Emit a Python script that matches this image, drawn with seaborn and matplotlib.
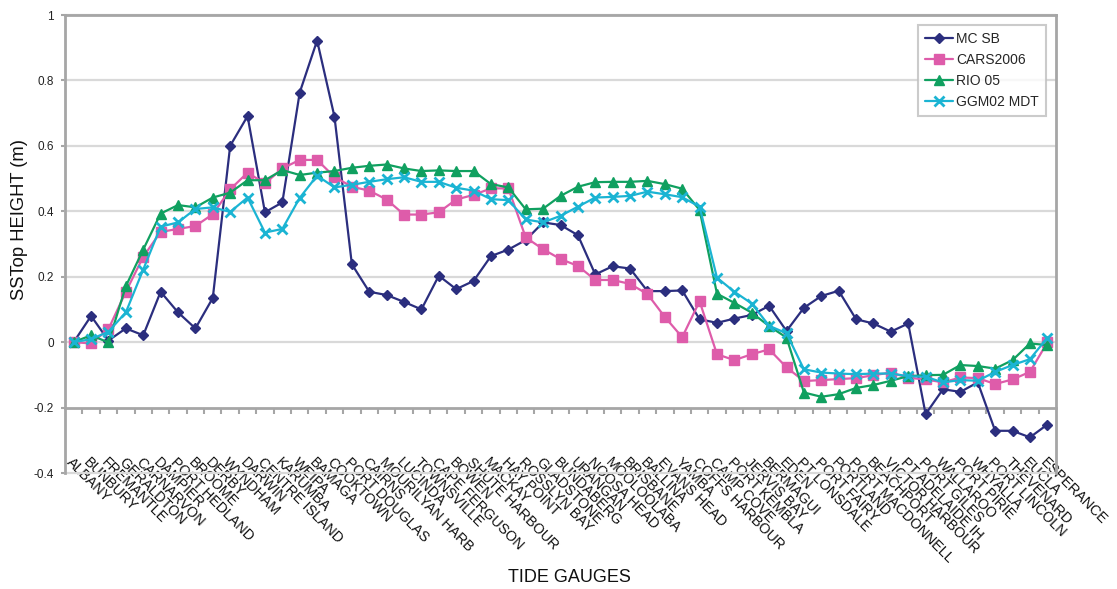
import numpy as np
import pandas as pd
import matplotlib
matplotlib.use("Agg")
import matplotlib.pyplot as plt
import seaborn as sns

gauges = [
    "ALBANY", "BUNBURY", "FREMANTLE", "GERALDTON", "CARNARVON", "DAMPIER",
    "PORT HEDLAND", "BROOME", "DERBY", "WYNDHAM", "DARWIN", "CENTRE ISLAND",
    "KARUMBA", "WEIPA", "BAMAGA", "COOKTOWN", "PORT DOUGLAS", "CAIRNS",
    "MOURILYAN HARB", "LUCINDA", "TOWNSVILLE", "CAPE FERGUSON", "BOWEN",
    "SHUTE HARBOUR", "MACKAY", "HAY POINT", "ROSSLYN BAY", "GLADSTONE",
    "BUNDABERG", "URANGAN", "NOOSA HEAD", "MOOLOOLABA", "BRISBANE", "BALLINA",
    "EVANS HEAD", "YAMBA", "COFFS HARBOUR", "CAMP COVE", "PORT KEMBLA",
    "JERVIS BAY", "BERMAGUI", "EDEN", "PT LONSDALE", "PORT FAIRY", "PORTLAND",
    "PORT MACDONNELL", "BEACHPORT", "VICTOR HARBOUR", "PT ADELAIDE IH",
    "PORT GILES", "WALLAROO", "PORT PIRIE", "WHYALLA", "PORT LINCOLN",
    "THEVENARD", "EUCLA", "ESPERANCE",
]

mc_sb = [
    0.0, 0.08, 0.005, 0.042, 0.021, 0.154, 0.091, 0.042, 0.135, 0.600,
    0.691, 0.397, 0.427, 0.763, 0.922, 0.689, 0.238, 0.154, 0.144, 0.123,
    0.100, 0.203, 0.162, 0.187, 0.263, 0.283, 0.312, 0.366, 0.358, 0.327,
    0.207, 0.232, 0.225, 0.156, 0.156, 0.158, 0.070, 0.059, 0.072, 0.083,
    0.111, 0.034, 0.105, 0.141, 0.157, 0.070, 0.057, 0.032, 0.057, -0.220,
    -0.144, -0.152, -0.123, -0.271, -0.271, -0.291, -0.252,
]

cars2006 = [
    0.0, -0.004, 0.040, 0.154, 0.261, 0.337, 0.346, 0.355, 0.391, 0.467,
    0.518, 0.485, 0.531, 0.557, 0.557, 0.505, 0.475, 0.463, 0.436, 0.390,
    0.390, 0.397, 0.436, 0.450, 0.470, 0.470, 0.320, 0.284, 0.254, 0.233,
    0.190, 0.190, 0.178, 0.147, 0.077, 0.015, 0.125, -0.037, -0.055, -0.037,
    -0.022, -0.077, -0.119, -0.116, -0.113, -0.110, -0.101, -0.093, -0.109,
    -0.114, -0.123, -0.108, -0.110, -0.128, -0.114, -0.091, -0.001,
]

rio05 = [
    0.0, 0.021, -0.001, 0.171, 0.283, 0.393, 0.419, 0.412, 0.442, 0.457,
    0.495, 0.495, 0.526, 0.511, 0.518, 0.523, 0.533, 0.539, 0.543, 0.531,
    0.523, 0.525, 0.523, 0.523, 0.483, 0.473, 0.406, 0.408, 0.447, 0.475,
    0.489, 0.490, 0.490, 0.493, 0.483, 0.469, 0.404, 0.148, 0.120, 0.090,
    0.049, 0.014, -0.154, -0.167, -0.159, -0.140, -0.131, -0.118, -0.104,
    -0.101, -0.100, -0.070, -0.073, -0.081, -0.055, -0.004, -0.009,
]

ggm02_mdt = [
    0.0, 0.009, 0.032, 0.091, 0.222, 0.353, 0.366, 0.407, 0.412, 0.398,
    0.442, 0.335, 0.346, 0.441, 0.509, 0.473, 0.481, 0.490, 0.498, 0.504,
    0.490, 0.490, 0.472, 0.463, 0.437, 0.434, 0.375, 0.366, 0.386, 0.414,
    0.442, 0.444, 0.447, 0.460, 0.452, 0.443, 0.414, 0.197, 0.154, 0.118,
    0.050, 0.027, -0.083, -0.093, -0.096, -0.098, -0.096, -0.096, -0.104,
    -0.106, -0.123, -0.116, -0.118, -0.091, -0.070, -0.052, 0.013,
]

series_names = ["MC SB", "CARS2006", "RIO 05", "GGM02 MDT"]
y_ticks = [-0.4, -0.2, 0.0, 0.2, 0.4, 0.6, 0.8, 1.0]
y_tick_labels = ["-0.4", "-0.2", "0", "0.2", "0.4", "0.6", "0.8", "1"]

sns.set_theme(style="white")
plt.rcParams["font.family"] = ["Liberation Sans", "DejaVu Sans"]

pos = np.arange(len(gauges))
df = pd.DataFrame({
    "pos": np.tile(pos, 4),
    "gauge": gauges * 4,
    "series": np.repeat(series_names, len(gauges)),
    "height": mc_sb + cars2006 + rio05 + ggm02_mdt,
})

styles = {
    "MC SB": dict(color="#2B2E7E", marker="D", markersize=5.5, mew=1),
    "CARS2006": dict(color="#DE5CAA", marker="s", markersize=6.5, mew=1),
    "RIO 05": dict(color="#10A060", marker="^", markersize=7, mew=1),
    "GGM02 MDT": dict(color="#1BB4D3", marker="x", markersize=7, mew=2),
}

fig = plt.figure(figsize=(11.17, 5.89), dpi=100)
ax = fig.add_axes([65 / 1117, 116 / 589, 991 / 1117, 458 / 589])

for name in series_names:
    st = styles[name]
    sub = df[df["series"] == name]
    sns.lineplot(
        data=sub, x="pos", y="height", ax=ax, label=name,
        color=st["color"], linewidth=1.6, marker=st["marker"],
        markersize=st["markersize"], markeredgecolor=st["color"],
        markerfacecolor=st["color"], markeredgewidth=st["mew"],
        estimator=None, sort=False, zorder=3,
    )

grid_c = "#D9D9D9"
axis_c = "#A6A6A6"

ax.set_xlim(-0.5, len(gauges) - 0.5)
ax.set_ylim(-0.4, 1.0)

# horizontal gridlines
for yv in y_ticks:
    if abs(yv + 0.2) > 1e-9:
        ax.axhline(yv, color=grid_c, lw=1.6, zorder=1, clip_on=False)

# frame: left, top, right in gray; category axis crosses at -0.2
for side in ["left", "top", "right"]:
    ax.spines[side].set_color(axis_c)
    ax.spines[side].set_linewidth(2)
ax.spines["bottom"].set_position(("data", -0.2))
ax.spines["bottom"].set_color(axis_c)
ax.spines["bottom"].set_linewidth(2)

ax.set_yticks(y_ticks, labels=y_tick_labels)
ax.tick_params(axis="y", which="major", direction="out", length=3,
               width=1.5, color=axis_c, pad=5, labelsize=8.5,
               labelcolor="#222222", left=True)

ax.set_xticks(pos, labels=gauges)
ax.set_xticks(np.arange(0.5, len(gauges) - 1, 1.0), minor=True)
ax.tick_params(axis="x", which="major", length=0, pad=34.5, labelsize=10.3,
               labelcolor="#111111")
ax.tick_params(axis="x", which="minor", direction="out", length=4,
               width=1.5, color=axis_c, bottom=True)
for lbl in ax.get_xticklabels():
    lbl.set_rotation(-45)
    lbl.set_ha("left")
    lbl.set_va("top")
    lbl.set_rotation_mode("anchor")

ax.set_xlabel("")
ax.set_ylabel("")
ax.grid(False)

fig.text(20 / 1117, 1 - 220 / 589, "SSTop HEIGHT (m)", rotation=90,
         ha="center", va="center", fontsize=13.2, color="#111111")
fig.text(569 / 1117, 1 - 578 / 589, "TIDE GAUGES", ha="center",
         va="center", fontsize=13, color="#111111")

leg = ax.legend(loc="upper right", bbox_to_anchor=(0.990, 0.978),
                frameon=True, fancybox=False, edgecolor="#BFBFBF",
                fontsize=10, handlelength=2.0, handletextpad=0.25,
                labelspacing=0.5, borderpad=0.5, borderaxespad=0)
leg.get_frame().set_linewidth(1.5)
leg.get_frame().set_facecolor("white")
leg.set_zorder(5)

fig.savefig("out.png", dpi=100)
